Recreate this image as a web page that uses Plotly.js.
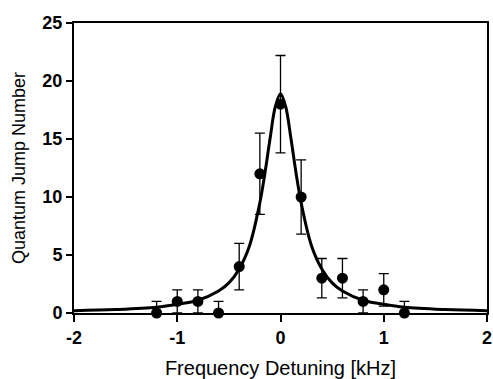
<!DOCTYPE html>
<html><head><meta charset="utf-8">
<script src="https://cdn.plot.ly/plotly-3.0.1.min.js"></script>
<style>html,body{margin:0;padding:0;background:#fff}#c{width:493px;height:379px}</style>
</head><body><div id="c"></div>
<script>
var detuning = [-1.2, -1.0, -0.8, -0.6, -0.4, -0.2, 0.0, 0.2, 0.4, 0.6, 0.8, 1.0, 1.2];
var jumps    = [0, 1, 1, 0, 4, 12, 18, 10, 3, 3, 1, 2, 0];
var errPlus  = [1, 1, 1, 1, 2, 3.5, 4.2, 3.2, 1.7, 1.7, 1, 1.4, 1];
var errMinus = [0, 1, 1, 0, 2, 3.5, 4.2, 3.2, 1.7, 1.7, 1, 1.4, 0];

var fitX = [-2.0, -1.6, -1.2, -1.0, -0.8, -0.6, -0.5, -0.4, -0.3, -0.2, -0.15, -0.1, -0.05, 0.0,
            0.05, 0.1, 0.15, 0.2, 0.3, 0.4, 0.5, 0.6, 0.8, 1.0, 1.2, 1.6, 2.0];
var fitY = [0.2, 0.3, 0.5, 0.75, 1.1, 1.9, 2.6, 3.8, 5.8, 9.5, 12.1, 15.1, 17.8, 18.9,
            17.8, 15.1, 12.1, 9.5, 5.8, 3.8, 2.6, 1.9, 1.1, 0.75, 0.5, 0.3, 0.2];

var tickFont = {family: 'Liberation Sans, Arial, sans-serif', size: 18, color: '#000', weight: 'bold'};

Plotly.newPlot('c', [
  {x: fitX, y: fitY, type: 'scatter', mode: 'lines', line: {color: '#000', width: 3, shape: 'spline', smoothing: 1}, hoverinfo: 'skip', cliponaxis: true},
  {x: detuning, y: jumps, type: 'scatter', mode: 'markers', cliponaxis: false,
   marker: {color: '#000', size: 11},
   error_y: {type: 'data', symmetric: false, array: errPlus, arrayminus: errMinus, color: '#000', thickness: 1.3, width: 5}}
], {
  width: 493, height: 379,
  margin: {l: 74, r: 6, t: 23, b: 66},
  showlegend: false,
  paper_bgcolor: '#fff', plot_bgcolor: '#fff',
  xaxis: {range: [-2, 2], tickvals: [-2, -1, 0, 1, 2], ticktext: ['-2', '-1', '0', '1', '2'],
          showgrid: false, zeroline: false, showline: true, linecolor: '#000', linewidth: 2, mirror: true,
          ticks: 'outside', ticklen: 7, tickwidth: 2, tickcolor: '#000', tickfont: tickFont,
          title: {text: 'Frequency Detuning [kHz]', font: {family: 'Liberation Sans, Arial, sans-serif', size: 20, color: '#000'}, standoff: 16}},
  yaxis: {range: [0, 25], tickvals: [0, 5, 10, 15, 20, 25],
          showgrid: false, zeroline: false, showline: true, linecolor: '#000', linewidth: 2, mirror: true,
          ticks: 'outside', ticklen: 6, tickwidth: 2, tickcolor: '#000', tickfont: tickFont,
          title: {text: 'Quantum Jump Number', font: {family: 'Liberation Sans, Arial, sans-serif', size: 18, color: '#000'}, standoff: 12}}
}, {staticPlot: true});
</script></body></html>
